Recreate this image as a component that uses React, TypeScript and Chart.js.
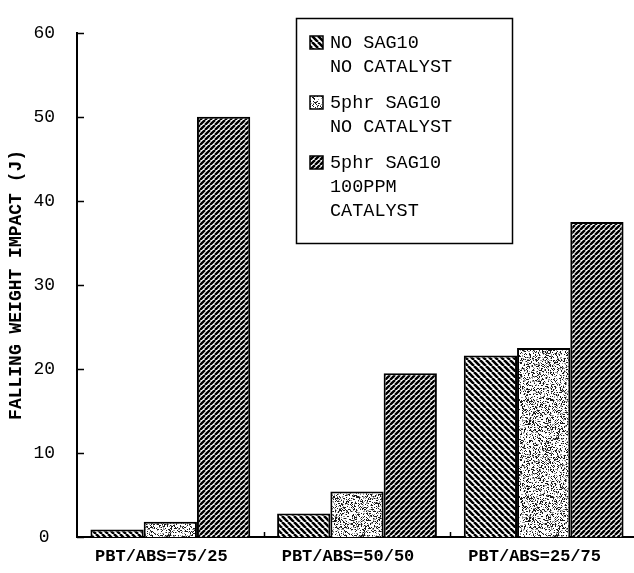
import React, { useEffect, useRef } from "react";
import { Chart, registerables } from "chart.js";

Chart.register(...registerables);

const categories = ["PBT/ABS=75/25", "PBT/ABS=50/50", "PBT/ABS=25/75"];
const noSagNoCatalyst = [0.9, 2.8, 21.6];
const sagNoCatalyst = [1.8, 5.4, 22.5];
const sagCatalyst = [50, 19.5, 37.5];
const seriesLines = [
  ["NO SAG10", "NO CATALYST"],
  ["5phr SAG10", "NO CATALYST"],
  ["5phr SAG10", "100PPM", "CATALYST"],
];
const yTitle = "FALLING WEIGHT IMPACT (J)";
const yMin = 0;
const yMax = 60;
const yStep = 10;

const MONO = "'Liberation Mono', 'Courier New', monospace";

function hatch(size: number, lw: number, dir: "fwd" | "back"): CanvasPattern {
  const c = document.createElement("canvas");
  c.width = size;
  c.height = size;
  const g = c.getContext("2d")!;
  g.fillStyle = "#fff";
  g.fillRect(0, 0, size, size);
  g.strokeStyle = "#000";
  g.lineWidth = lw;
  g.beginPath();
  for (const x0 of [-size, 0, size]) {
    if (dir === "fwd") {
      g.moveTo(x0, size);
      g.lineTo(x0 + size, 0);
    } else {
      g.moveTo(x0, 0);
      g.lineTo(x0 + size, size);
    }
  }
  g.stroke();
  return g.createPattern(c, "repeat")!;
}

function mix(n: number): number {
  let x = (n ^ 0x9e3779b9) >>> 0;
  x = Math.imul(x ^ (x >>> 16), 0x85ebca6b) >>> 0;
  x = Math.imul(x ^ (x >>> 13), 0xc2b2ae35) >>> 0;
  x = (x ^ (x >>> 16)) >>> 0;
  return x / 4294967296;
}

function stipple(size: number): CanvasPattern {
  const c = document.createElement("canvas");
  c.width = size;
  c.height = size;
  const g = c.getContext("2d")!;
  const img = g.createImageData(size, size);
  for (let i = 0; i < size * size; i++) {
    const r = mix(i * 7919 + 101);
    const v = r < 0.22 ? 25 : r < 0.36 ? 150 : 255;
    img.data[i * 4] = v;
    img.data[i * 4 + 1] = v;
    img.data[i * 4 + 2] = v;
    img.data[i * 4 + 3] = 255;
  }
  g.putImageData(img, 0, 0);
  return g.createPattern(c, "repeat")!;
}

const overlayPlugin = {
  id: "overlay",
  afterDraw(chart: any) {
    const { ctx, chartArea, scales } = chart;
    const x = scales.x;
    const y = scales.y;
    ctx.save();
    ctx.strokeStyle = "#000";
    ctx.lineWidth = 1.5;
    ctx.beginPath();
    for (let v = yMin; v <= yMax; v += yStep) {
      const py = Math.round(y.getPixelForValue(v)) + 0.5;
      ctx.moveTo(chartArea.left, py);
      ctx.lineTo(chartArea.left + 7, py);
    }
    for (let i = 0; i < categories.length - 1; i++) {
      const px = Math.round((x.getPixelForValue(i) + x.getPixelForValue(i + 1)) / 2) + 0.5;
      ctx.moveTo(px, chartArea.bottom);
      ctx.lineTo(px, chartArea.bottom - 5);
    }
    ctx.stroke();

    const bx = 296, by = 18, bw = 216, bh = 225;
    ctx.fillStyle = "#fff";
    ctx.fillRect(bx, by, bw, bh);
    ctx.lineWidth = 1.5;
    ctx.strokeRect(bx + 0.5, by + 0.5, bw, bh);
    ctx.font = `18.5px ${MONO}`;
    ctx.textBaseline = "middle";
    ctx.textAlign = "left";
    let ly = 43;
    chart.data.datasets.forEach((ds: any, i: number) => {
      const lines: string[] = seriesLines[i];
      ctx.fillStyle = ds.backgroundColor;
      ctx.fillRect(310, ly - 7, 13, 13);
      ctx.lineWidth = 1.5;
      ctx.strokeRect(310, ly - 7, 13, 13);
      ctx.fillStyle = "#000";
      lines.forEach((t, k) => {
        ctx.fillText(t, 330, ly + k * 24);
      });
      ly += (lines.length - 1) * 24 + 36;
    });
    ctx.restore();
  },
};

export default function App() {
  const ref = useRef<HTMLCanvasElement>(null);
  useEffect(() => {
    if (!ref.current) return;
    const patterns = [hatch(6, 2.6, "back"), stipple(97), hatch(5, 2.4, "fwd")];
    const values = [noSagNoCatalyst, sagNoCatalyst, sagCatalyst];
    const chart = new Chart(ref.current, {
      type: "bar",
      data: {
        labels: categories,
        datasets: values.map((d, i) => ({
          label: seriesLines[i].join(" "),
          data: d,
          backgroundColor: patterns[i] as any,
          borderColor: "#000",
          borderWidth: 2,
          categoryPercentage: 0.856,
          barPercentage: 1,
        })),
      },
      options: {
        responsive: false,
        animation: false,
        devicePixelRatio: 1,
        layout: { padding: { top: 17, right: 3, left: 0, bottom: 0 } },
        plugins: { legend: { display: false }, tooltip: { enabled: false } },
        scales: {
          x: {
            offset: true,
            grid: { display: false, drawTicks: false },
            border: { color: "#000", width: 2 },
            ticks: {
              font: { family: MONO, size: 17, weight: "bold" },
              color: "#000",
              padding: 10,
              labelOffset: -9,
              maxRotation: 0,
              autoSkip: false,
            },
            afterFit: (s: any) => {
              s.height = 36;
            },
          },
          y: {
            min: yMin,
            max: yMax,
            grid: { display: false, drawTicks: false },
            border: { color: "#000", width: 2 },
            ticks: {
              stepSize: yStep,
              font: { family: MONO, size: 18 },
              color: "#000",
              padding: 22,
              crossAlign: "center",
            },
            title: {
              display: true,
              text: yTitle,
              font: { family: MONO, size: 18, weight: "bold" },
              color: "#000",
              padding: { top: 6, bottom: 0 },
            },
            afterFit: (s: any) => {
              s.width = 77;
            },
          },
        },
      },
      plugins: [overlayPlugin],
    });
    return () => chart.destroy();
  }, []);
  return (
    <div style={{ position: "fixed", left: 0, top: 0, width: 640, height: 573, background: "#fff" }}>
      <canvas ref={ref} width={640} height={573} style={{ display: "block" }} />
    </div>
  );
}
